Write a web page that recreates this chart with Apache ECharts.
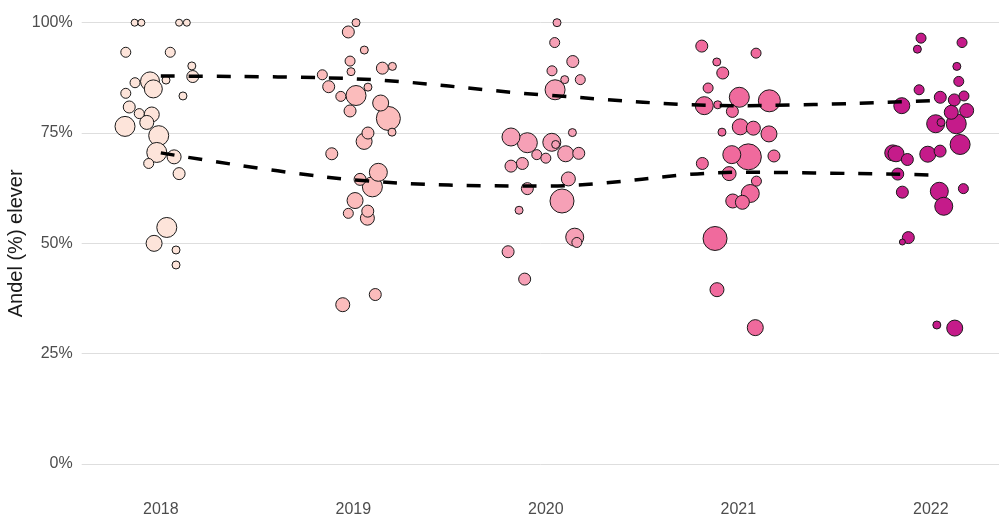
<!DOCTYPE html>
<html>
<head>
<meta charset="utf-8">
<script src="https://cdn.jsdelivr.net/npm/echarts@6/dist/echarts.min.js"></script>
<style>
html,body{margin:0;padding:0;background:#fff;}
#chart{width:999px;height:515px;}
</style>
</head>
<body>
<div id="chart"></div>
<script>
// Categories
const years = [2018, 2019, 2020, 2021, 2022];
const yTicks = [0, 25, 50, 75, 100];

// Points per year: [horizontal jitter (in category units), share of pupils (%), weight]
const points2018 = [
  [-0.136,100,3.5],[-0.101,100,3.5],[0.095,100,3.5],[0.135,100,3.5],
  [-0.182,93.3,5],[0.049,93.3,5],[0.161,90.2,4],[0.166,87.8,6],
  [-0.056,86.7,9.5],[-0.039,85,9],[0.027,87,4],[-0.134,86.4,5],
  [-0.182,84,5],[0.115,83.4,4],[-0.164,80.9,6],[-0.112,79.4,5],
  [-0.047,79.2,7.5],[-0.073,77.4,7],[-0.186,76.5,10],[-0.011,74.4,10],
  [-0.021,70.6,10],[0.069,69.6,7],[-0.063,68.1,5],[0.095,65.8,6],
  [0.031,53.6,10],[-0.035,50,8],[0.079,48.5,4],[0.079,45.1,4]
];
const points2019 = [
  [0.014,100,4],[-0.026,97.9,6],[0.057,93.8,4],[-0.017,91.3,5],
  [-0.012,88.9,4],[0.151,89.7,6],[0.203,90.1,4],[-0.161,88.2,5],
  [-0.128,85.5,6],[0.076,85.4,4],[-0.065,83.3,5],[0.014,83.5,10],
  [0.142,81.8,8],[-0.017,80,6],[0.182,78.3,12],[0.201,75.2,4],
  [0.076,75,6],[0.056,73.1,8],[-0.112,70.3,6],[0.130,66.1,9],
  [0.035,64.5,6],[0.099,62.8,10],[0.009,59.7,8],[-0.026,56.8,5],
  [0.075,57.3,6],[0.073,55.7,7],[0.114,38.4,6],[-0.055,36.1,7]
];
const points2020 = [
  [0.058,100,4],[0.046,95.5,5],[0.140,91.2,6],[0.032,89.1,5],
  [0.098,87.1,4],[0.179,87.1,5],[0.048,84.8,10],[0.138,75.1,4],
  [-0.181,74.1,9],[-0.096,72.8,10],[0.031,72.9,9],[0.051,72.4,4],
  [-0.047,70.1,5],[0,69.3,5],[0.103,70.3,8],[0.171,70.4,6],
  [-0.122,68.1,6],[-0.181,67.5,6],[0.117,64.6,7],[-0.096,62.4,6],
  [0.084,59.6,12],[-0.139,57.5,4],[0.150,51.4,9],[0.161,50.2,5],
  [-0.196,48.1,6],[-0.110,41.9,6]
];
const points2021 = [
  [-0.190,94.7,6],[0.092,93.1,5],[-0.112,91.1,4],[-0.081,88.6,6],
  [-0.157,85.2,5],[-0.177,81.2,9],[0.005,83.1,10],[0.161,82.3,11],
  [-0.107,81.4,4],[-0.031,79.9,6],[0.010,76.4,8],[0.078,76.1,7],
  [-0.085,75.2,4],[0.159,74.8,8],[-0.034,70.1,9],[0.052,69.6,13],
  [0.185,69.8,6],[-0.187,68.1,6],[-0.048,65.8,7],[0.094,64.1,5],
  [0.062,61.3,9],[-0.029,59.6,7],[0.021,59.3,7],[-0.121,51.1,12],
  [-0.111,39.5,7],[0.088,30.9,8]
];
const points2022 = [
  [-0.051,96.5,5],[-0.070,94,4],[0.162,95.5,5],[0.135,90.1,4],
  [0.145,86.7,5],[-0.061,84.8,5],[0.049,83.1,6],[0.122,82.5,6],
  [0.172,83.4,5],[-0.151,81.2,8],[0.186,80.1,7],[0.106,79.7,7],
  [0.025,77.1,9],[0.053,77.4,4],[0.132,77.1,10],[0.152,72.4,10],
  [-0.198,70.5,8],[-0.181,70.3,8],[-0.122,69,6],[-0.016,70.2,8],
  [0.048,70.9,6],[-0.172,65.7,6],[-0.148,61.6,6],[0.044,61.8,9],
  [0.067,58.4,9],[0.169,62.4,5],[-0.117,51.3,6],[-0.148,50.3,3],
  [0.031,31.5,4],[0.124,30.8,8]
];

// Dashed trend lines (%)
const upperLine = [87.9, 87.3, 83.6, 81.2, 82.3];
const lowerLine = [70.5, 64.4, 63.0, 66.1, 65.5];

const yearColors = ['#fde4da', '#fbbcbc', '#f6a0b6', '#f06a9d', '#c51b8a'];
const allPoints = [points2018, points2019, points2020, points2021, points2022];

const chart = echarts.init(document.getElementById('chart'));
const font = 'Liberation Sans, Arial, sans-serif';

const scatterSeries = years.map((yr, i) => ({
  type: 'scatter',
  name: String(yr),
  data: allPoints[i]
    .map(p => [yr + p[0], p[1], p[2]])
    .sort((a, b) => b[2] - a[2]),
  symbolSize: d => d[2] * 2,
  itemStyle: { color: yearColors[i], borderColor: '#1a1a1a', borderWidth: 1, opacity: 1 },
  emphasis: { disabled: true },
  z: 2
}));

const lineStyle = { color: '#000', width: 3.5, type: [14, 14] };
const lineSeries = [upperLine, lowerLine].map((arr, k) => ({
  type: 'line',
  name: k === 0 ? 'upper' : 'lower',
  data: years.map((yr, i) => [yr, arr[i]]),
  smooth: 0.35,
  symbol: 'none',
  lineStyle: lineStyle,
  z: 5
}));

chart.setOption({
  animation: false,
  backgroundColor: '#fff',
  grid: { left: 81.7, right: 0, top: 22.7, bottom: 51, containLabel: false, outerBoundsMode: 'none' },
  xAxis: {
    type: 'value',
    min: 2017.589,
    max: 2022.354,
    axisLine: { show: false },
    axisTick: { show: false },
    splitLine: { show: false },
    axisLabel: {
      customValues: years,
      formatter: v => String(Math.round(v)),
      color: '#4d4d4d',
      fontSize: 16,
      fontFamily: font,
      margin: 38
    }
  },
  yAxis: {
    type: 'value',
    min: 0,
    max: 100,
    interval: 25,
    name: 'Andel (%) elever',
    nameLocation: 'middle',
    nameGap: 55,
    nameMoveOverlap: false,
    nameTextStyle: { color: '#1a1a1a', fontSize: 20, fontFamily: font },
    axisLine: { show: false },
    axisTick: { show: false },
    splitLine: { lineStyle: { color: '#dedede', width: 1 } },
    axisLabel: {
      formatter: '{value}%',
      color: '#4d4d4d',
      fontSize: 16,
      fontFamily: font,
      margin: 9
    }
  },
  series: scatterSeries.concat(lineSeries)
});
</script>
</body>
</html>
